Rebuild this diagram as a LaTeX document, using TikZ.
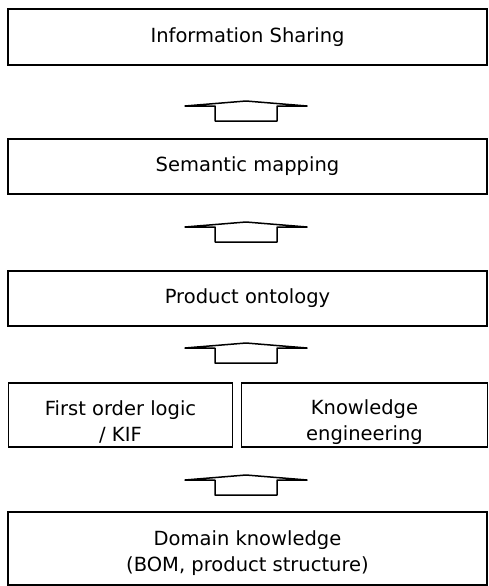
\documentclass[tikz,border=0pt]{standalone}
\usepackage{fontspec}
\setmainfont{DejaVu Sans}
\begin{document}
\begin{tikzpicture}[x=1pt,y=-1pt,
  layer/.style={draw=black,line width=1.6pt,inner sep=0pt,align=center,
    font=\fontsize{19.5}{26}\selectfont},
  liftarrow/.pic={
    \draw[line width=1.5pt,line join=round,fill=white]
      (-61,0) -- (0,-5) -- (61,0) -- (31,0) -- (31,15) -- (-31,15) -- (-31,0) -- cycle;
  }]
\useasboundingbox (0,0) rectangle (488,586);
% stacked layers
\node[layer,minimum width=479pt,minimum height=56pt] (share) at (247.5,37) {Information Sharing};
\node[layer,minimum width=479pt,minimum height=55pt] (map) at (247.5,166.5) {Semantic mapping};
\node[layer,minimum width=479pt,minimum height=55pt] (onto) at (247.5,298.5) {Product ontology};
\node[layer,minimum width=224pt,minimum height=64pt] (fol) at (120.5,415) {};
\node[layer,minimum width=246pt,minimum height=64pt] (keng) at (364.5,415) {};
\node[layer,minimum width=479pt,minimum height=73pt] (dom) at (247.5,548.5) {};
% two-line captions sit a little below the box centres
\node[layer,draw=none] at ([yshift=-7pt]fol.center) {First order logic\\/ KIF};
\node[layer,draw=none] at ([yshift=-7pt]keng.center) {Knowledge\\engineering};
\node[layer,draw=none] at ([yshift=-5pt]dom.center) {Domain knowledge\\(BOM, product structure)};
% upward block arrows between layers
\coordinate (a1) at (246,106);
\coordinate (a2) at (246,227);
\coordinate (a3) at (246,348);
\coordinate (a4) at (246,480);
\pic at (a1) {liftarrow};
\pic at (a2) {liftarrow};
\pic at (a3) {liftarrow};
\pic at (a4) {liftarrow};
\end{tikzpicture}
\end{document}
